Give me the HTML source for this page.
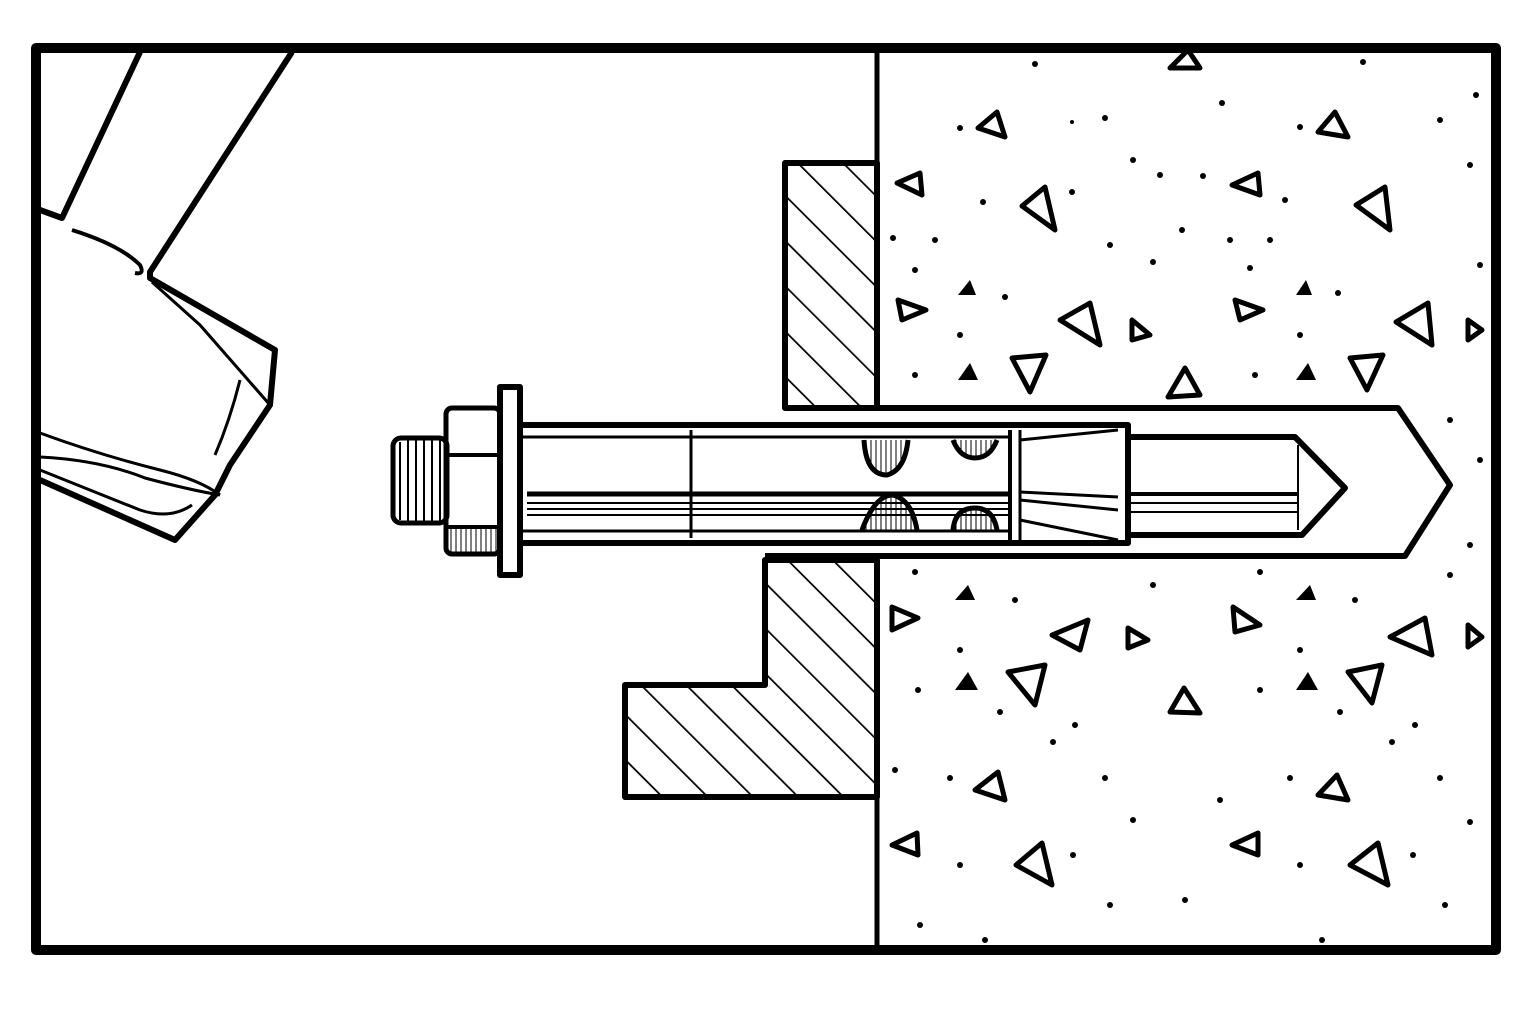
<!DOCTYPE html><html><head><style>body{margin:0;background:#fff}</style></head><body>
<svg width="1536" height="1024" viewBox="0 0 1536 1024" xmlns="http://www.w3.org/2000/svg">
<defs>
<pattern id="h" patternUnits="userSpaceOnUse" width="32" height="32" patternTransform="rotate(-45)">
<line x1="0" y1="0" x2="0" y2="32" stroke="#000" stroke-width="3.5"/></pattern>
<pattern id="v" patternUnits="userSpaceOnUse" width="5" height="10">
<line x1="1" y1="0" x2="1" y2="10" stroke="#000" stroke-width="1"/></pattern>
</defs>
<rect width="1536" height="1024" fill="#fff"/>
<g fill="none" stroke="#000" stroke-linejoin="round">
<rect x="785" y="163" width="92" height="245" fill="url(#h)" stroke-width="6"/>
<path d="M765 560 H877 V797 H625 V685 H765 Z" fill="url(#h)" stroke-width="6"/>
<line x1="877" y1="48" x2="877" y2="408" stroke-width="5"/>
<line x1="877" y1="560" x2="877" y2="950" stroke-width="5"/>
<path d="M785 408 H1398 L1450 485 L1405 556 H765" stroke-width="6"/>
<path d="M40 210 L62 218 L140 52 M292 52 L150 272 L150 278 L275 350 L270 405 L230 465 L215 495 L175 540 L40 480" stroke-width="6"/>
<path d="M72 230 Q120 245 140 265 Q145 275 135 273" stroke-width="4"/>
<path d="M152 282 L200 325 L270 405 M240 380 Q230 420 215 455" stroke-width="3"/>
<path d="M40 433 Q100 455 160 470 Q200 480 220 495 M40 457 Q100 460 145 478 Q190 490 220 495 M40 470 Q90 490 140 510 Q170 520 192 505" stroke-width="3"/>
<rect x="393" y="438" width="54" height="85" rx="8" stroke-width="5"/>
<g stroke-width="2"><line x1="400" y1="442" x2="400" y2="520"/><line x1="408" y1="440" x2="408" y2="522"/><line x1="416" y1="440" x2="416" y2="522"/><line x1="424" y1="440" x2="424" y2="522"/><line x1="432" y1="440" x2="432" y2="522"/><line x1="440" y1="440" x2="440" y2="522"/></g>
<rect x="446" y="408" width="54" height="146" rx="6" stroke-width="5"/>
<line x1="446" y1="455" x2="500" y2="455" stroke-width="4"/>
<rect x="448" y="527" width="50" height="25" fill="url(#v)" stroke="none"/>
<line x1="446" y1="527" x2="500" y2="527" stroke-width="4"/>
<rect x="500" y="387" width="20" height="188" stroke-width="6"/>
<rect x="520" y="425" width="608" height="118" stroke-width="6"/>
<line x1="520" y1="437" x2="1010" y2="437" stroke-width="3"/>
<line x1="520" y1="531" x2="1010" y2="531" stroke-width="3"/>
<line x1="691" y1="430" x2="691" y2="538" stroke-width="3"/>
<line x1="1010" y1="430" x2="1010" y2="540" stroke-width="4"/>
<line x1="1020" y1="430" x2="1020" y2="540" stroke-width="3"/>
<line x1="527" y1="494" x2="1010" y2="494" stroke-width="5"/>
<line x1="527" y1="503" x2="1010" y2="503" stroke-width="2"/>
<line x1="527" y1="509" x2="1010" y2="509" stroke-width="2"/>
<line x1="527" y1="515" x2="1010" y2="515" stroke-width="2"/>
<path d="M864 440 Q866 475 887 475 Q905 470 908 440" stroke-width="5" fill="url(#v)"/>
<path d="M953 440 Q960 458 975 458 Q990 458 997 440" stroke-width="5" fill="url(#v)"/>
<path d="M862 530 Q875 495 893 495 Q912 500 917 530" stroke-width="5" fill="url(#v)"/>
<path d="M953 530 Q955 508 975 508 Q993 508 997 530" stroke-width="5" fill="url(#v)"/>
<path d="M1020 440 L1118 430 M1020 492 L1118 497 M1020 500 L1118 510 M1020 520 L1118 540" stroke-width="3"/>
<path d="M1128 437 H1295 L1345 488 L1302 535 H1128" stroke-width="6"/>
<line x1="1298" y1="445" x2="1298" y2="530" stroke-width="2"/>
<line x1="1128" y1="494" x2="1298" y2="494" stroke-width="4"/>
<line x1="1128" y1="503" x2="1298" y2="503" stroke-width="2"/>
<line x1="1128" y1="512" x2="1298" y2="512" stroke-width="2"/>
<g stroke-width="5">
<path d="M1170 68 L1200 68 L1188 50Z"/><path d="M978 128 L1005 137 L997 112Z"/><path d="M1318 132 L1348 137 L1335 112Z"/>
<path d="M897 183 L922 195 L920 173Z"/><path d="M1022 206 L1055 230 L1045 187Z"/><path d="M1232 185 L1260 195 L1258 173Z"/><path d="M1356 205 L1390 230 L1385 187Z"/>
<path d="M898 300 L926 310 L902 320Z"/><path d="M1060 320 L1100 345 L1090 303Z"/><path d="M1132 320 L1150 335 L1132 340Z"/><path d="M1235 300 L1263 310 L1240 320Z"/><path d="M1396 322 L1432 345 L1428 303Z"/>
<path d="M1012 358 L1046 355 L1030 392Z"/><path d="M1168 397 L1200 395 L1185 368Z"/><path d="M1350 358 L1383 355 L1367 390Z"/>
<path d="M892 607 L918 618 L892 630Z"/><path d="M1052 635 L1088 620 L1080 650Z"/><path d="M1128 628 L1148 640 L1128 648Z"/><path d="M1233 607 L1260 625 L1235 632Z"/><path d="M1390 637 L1425 618 L1432 655Z"/>
<path d="M1008 672 L1045 665 L1035 705Z"/><path d="M1170 712 L1200 713 L1184 688Z"/><path d="M1348 672 L1382 665 L1372 703Z"/>
<path d="M975 790 L1005 800 L998 772Z"/><path d="M1318 795 L1348 800 L1337 775Z"/>
<path d="M892 845 L918 855 L917 833Z"/><path d="M1016 865 L1052 885 L1042 843Z"/><path d="M1232 845 L1258 855 L1258 833Z"/><path d="M1350 865 L1388 885 L1378 843Z"/>
<path d="M1468 320 L1482 330 L1468 340Z"/><path d="M1468 625 L1482 637 L1468 647Z"/>
</g>
<g fill="#000" stroke="none">
<path d="M958 295 L976 295 L970 280Z"/><path d="M1296 295 L1312 295 L1306 280Z"/><path d="M958 380 L978 380 L970 363Z"/><path d="M1296 380 L1316 380 L1308 363Z"/>
<path d="M955 600 L975 600 L968 585Z"/><path d="M1296 600 L1316 600 L1310 585Z"/><path d="M955 690 L978 690 L968 672Z"/><path d="M1296 690 L1318 690 L1308 672Z"/>
<circle cx="960" cy="128" r="3"/><circle cx="1072" cy="122" r="2"/><circle cx="1105" cy="118" r="3"/><circle cx="1222" cy="103" r="3"/><circle cx="1300" cy="127" r="3"/><circle cx="1440" cy="120" r="3"/><circle cx="1363" cy="62" r="3"/><circle cx="1035" cy="64" r="3"/><circle cx="1476" cy="95" r="3"/>
<circle cx="1133" cy="160" r="3"/><circle cx="1160" cy="175" r="3"/><circle cx="1072" cy="192" r="3"/><circle cx="1203" cy="176" r="3"/><circle cx="1470" cy="165" r="3"/><circle cx="983" cy="202" r="3"/><circle cx="1182" cy="230" r="3"/><circle cx="1285" cy="200" r="3"/><circle cx="935" cy="240" r="3"/><circle cx="1230" cy="240" r="3"/><circle cx="1270" cy="240" r="3"/><circle cx="893" cy="238" r="3"/><circle cx="1110" cy="245" r="3"/><circle cx="1153" cy="262" r="3"/><circle cx="915" cy="270" r="3"/><circle cx="1250" cy="268" r="3"/><circle cx="1005" cy="297" r="3"/><circle cx="1338" cy="293" r="3"/><circle cx="960" cy="335" r="3"/><circle cx="1300" cy="335" r="3"/><circle cx="915" cy="375" r="3"/><circle cx="1255" cy="375" r="3"/><circle cx="1480" cy="265" r="3"/>
<circle cx="915" cy="572" r="3"/><circle cx="1015" cy="600" r="3"/><circle cx="1153" cy="585" r="3"/><circle cx="1260" cy="572" r="3"/><circle cx="1355" cy="600" r="3"/><circle cx="1450" cy="575" r="3"/><circle cx="960" cy="650" r="3"/><circle cx="1300" cy="650" r="3"/><circle cx="918" cy="690" r="3"/><circle cx="1260" cy="690" r="3"/><circle cx="1000" cy="712" r="3"/><circle cx="1340" cy="712" r="3"/><circle cx="1075" cy="725" r="3"/><circle cx="1415" cy="725" r="3"/><circle cx="1053" cy="742" r="3"/><circle cx="1392" cy="742" r="3"/><circle cx="895" cy="770" r="3"/><circle cx="1105" cy="778" r="3"/><circle cx="1440" cy="778" r="3"/><circle cx="950" cy="778" r="3"/><circle cx="1290" cy="778" r="3"/><circle cx="1220" cy="800" r="3"/><circle cx="1133" cy="820" r="3"/><circle cx="1470" cy="822" r="3"/><circle cx="1073" cy="855" r="3"/><circle cx="1413" cy="855" r="3"/><circle cx="960" cy="865" r="3"/><circle cx="1300" cy="865" r="3"/><circle cx="1110" cy="905" r="3"/><circle cx="1445" cy="905" r="3"/><circle cx="920" cy="925" r="3"/><circle cx="985" cy="940" r="3"/><circle cx="1185" cy="900" r="3"/><circle cx="1322" cy="940" r="3"/><circle cx="1480" cy="460" r="3"/><circle cx="1450" cy="420" r="3"/><circle cx="1470" cy="545" r="3"/>
</g>
<rect x="36" y="48" width="1460" height="902" stroke-width="10"/>
</g>
</svg>
</body></html>
